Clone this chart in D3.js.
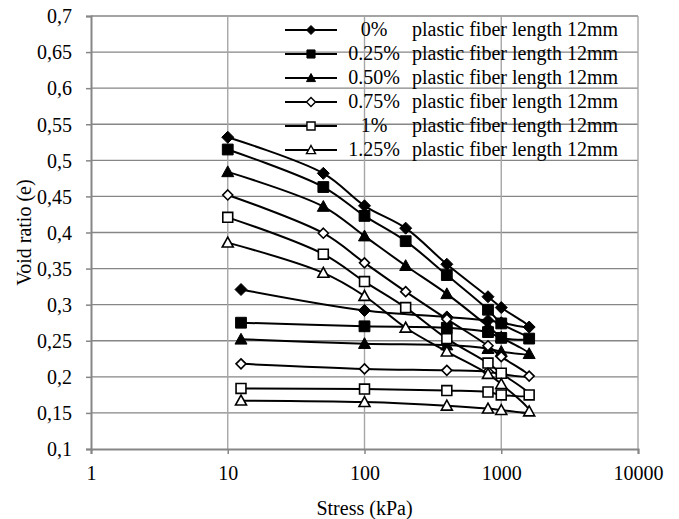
<!DOCTYPE html>
<html lang="en">
<head>
<meta charset="UTF-8">
<title>Void ratio vs stress</title>
<script src="https://d3js.org/d3.v7.min.js"></script>
<style>
    body { margin: 0; background: #fff; }
    svg { display: block; }
    svg text { font-family: "Liberation Serif", "Times New Roman", Times, "DejaVu Serif", serif; font-size: 20px; fill: #000; }
</style>
</head>
<body>
<div id="chart"></div>
<script>
    // Data
    const loadStress = [10, 50, 100, 200, 400, 800, 1000, 1600];
    const unloadStress = [1000, 800, 400, 100, 12.5];

    const seriesNames = ['0%', '0.25%', '0.50%', '0.75%', '1%', '1.25%'];
    const seriesSuffix = 'plastic fiber length 12mm';
    const markerShapes = ['diamond', 'square', 'triangle', 'diamond', 'square', 'triangle'];
    const markerFilled = [true, true, true, false, false, false];

    const loadValues = [
        [0.532, 0.482, 0.437, 0.406, 0.356, 0.311, 0.296, 0.269],
        [0.515, 0.463, 0.423, 0.388, 0.341, 0.293, 0.274, 0.253],
        [0.484, 0.436, 0.395, 0.354, 0.315, 0.270, 0.255, 0.232],
        [0.452, 0.399, 0.358, 0.318, 0.280, 0.243, 0.228, 0.201],
        [0.421, 0.370, 0.332, 0.296, 0.253, 0.219, 0.205, 0.175],
        [0.386, 0.344, 0.312, 0.268, 0.235, 0.204, 0.190, 0.152]
    ];
    const unloadValues = [
        [0.275, 0.278, 0.283, 0.292, 0.321],
        [0.254, 0.262, 0.268, 0.270, 0.275],
        [0.235, 0.239, 0.244, 0.246, 0.252],
        [0.204, 0.207, 0.209, 0.211, 0.218],
        [0.175, 0.179, 0.181, 0.183, 0.184],
        [0.154, 0.156, 0.160, 0.165, 0.167]
    ];

    const xTicks = [1, 10, 100, 1000, 10000];
    const yTicks = [0.1, 0.15, 0.2, 0.25, 0.3, 0.35, 0.4, 0.45, 0.5, 0.55, 0.6, 0.65, 0.7];

    // Layout
    const width = 679, height = 519;
    const plot = { left: 91, right: 638, top: 16, bottom: 449 };
    const serif = '"Liberation Serif", "Times New Roman", Times, "DejaVu Serif", serif';

    const svg = d3.select('#chart').append('svg')
        .attr('width', width)
        .attr('height', height);

    const x = d3.scaleLog().domain([1, 10000]).range([plot.left, plot.right]);
    const y = d3.scaleLinear().domain([0.1, 0.7]).range([plot.bottom, plot.top]);

    // Gridlines
    svg.append('g').selectAll('line')
        .data(yTicks.slice(1))
        .enter().append('line')
        .attr('x1', plot.left).attr('x2', plot.right)
        .attr('y1', d => y(d)).attr('y2', d => y(d))
        .attr('stroke', '#868686').attr('stroke-width', 1.4);

    svg.append('g').selectAll('line')
        .data(xTicks.slice(1))
        .enter().append('line')
        .attr('x1', d => x(d)).attr('x2', d => x(d))
        .attr('y1', plot.top).attr('y2', plot.bottom)
        .attr('stroke', '#a6a6a6').attr('stroke-width', 1.4);

    // Axes
    const yAxis = d3.axisLeft(y).tickValues(yTicks).tickSize(5)
        .tickFormat(d => d3.format('.2~f')(d).replace('.', ','));
    const yg = svg.append('g')
        .attr('transform', `translate(${plot.left},0)`)
        .call(yAxis)
        .attr('font-family', serif)
        .attr('font-size', 20);
    yg.select('.domain').attr('stroke', '#868686').attr('stroke-width', 2);
    yg.selectAll('.tick line').attr('stroke', '#868686').attr('stroke-width', 1.5);
    yg.selectAll('.tick text')
        .attr('x', -19)
        .attr('dy', '0.34em')
        .style('font-family', serif);

    const xAxis = d3.axisBottom(x).tickValues(xTicks).tickSize(5)
        .tickFormat(d3.format('d'));
    const xg = svg.append('g')
        .attr('transform', `translate(0,${plot.bottom})`)
        .call(xAxis)
        .attr('font-family', serif)
        .attr('font-size', 20);
    xg.select('.domain').attr('stroke', '#868686').attr('stroke-width', 2);
    xg.selectAll('.tick line').attr('stroke', '#868686').attr('stroke-width', 1.5);
    xg.selectAll('.tick text')
        .attr('y', 17)
        .attr('dy', '0.71em')
        .style('font-family', serif);

    // Axis titles
    svg.append('text')
        .attr('x', (plot.left + plot.right) / 2)
        .attr('y', 515)
        .attr('text-anchor', 'middle')
        .style('font-family', serif)
        .text('Stress (kPa)');

    svg.append('text')
        .attr('transform', `translate(31,${(plot.top + plot.bottom) / 2}) rotate(-90)`)
        .attr('text-anchor', 'middle')
        .style('font-family', serif)
        .text('Void ratio (e)');

    // Marker paths
    function markerPath(shape, r) {
        if (shape === 'diamond') {
            return `M0,${-r}L${r},0L0,${r}L${-r},0Z`;
        }
        if (shape === 'square') {
            const h = r * 0.9;
            return `M${-h},${-h}L${h},${-h}L${h},${h}L${-h},${h}Z`;
        }
        return `M0,${-r}L${r},${r * 0.8}L${-r},${r * 0.8}Z`;
    }

    const line = d3.line()
        .x(d => x(d.s))
        .y(d => y(d.e))
        .curve(d3.curveCatmullRom.alpha(0.5));

    seriesNames.forEach((name, i) => {
        const pts = loadStress.map((s, j) => ({ s, e: loadValues[i][j] }))
            .concat(unloadStress.map((s, j) => ({ s, e: unloadValues[i][j] })));

        svg.append('path')
            .datum(pts)
            .attr('d', line)
            .attr('fill', 'none')
            .attr('stroke', '#000')
            .attr('stroke-width', 2);

        const r = markerShapes[i] === 'diamond' && !markerFilled[i] ? 5 : (markerFilled[i] ? 6 : 5.5);
        svg.append('g').selectAll('path')
            .data(pts)
            .enter().append('path')
            .attr('transform', d => `translate(${x(d.s)},${y(d.e)})`)
            .attr('d', markerPath(markerShapes[i], r))
            .attr('fill', markerFilled[i] ? '#000' : '#fff')
            .attr('stroke', '#000')
            .attr('stroke-width', markerFilled[i] ? 1 : 1.6);
    });

    // Legend
    const legend = svg.append('g');
    seriesNames.forEach((name, i) => {
        const cy = 30 + i * 24;
        legend.append('line')
            .attr('x1', 285).attr('x2', 337)
            .attr('y1', cy).attr('y2', cy)
            .attr('stroke', '#000').attr('stroke-width', 2);
        legend.append('path')
            .attr('transform', `translate(311,${cy})`)
            .attr('d', markerPath(markerShapes[i], 4.5))
            .attr('fill', markerFilled[i] ? '#000' : '#fff')
            .attr('stroke', '#000')
            .attr('stroke-width', markerFilled[i] ? 1 : 1.4);
        legend.append('text')
            .attr('x', 374).attr('y', cy + 6)
            .attr('text-anchor', 'middle')
            .style('font-family', serif)
            .text(name);
        legend.append('text')
            .attr('x', 412).attr('y', cy + 6)
            .style('font-family', serif)
            .text(seriesSuffix);
    });
</script>
</body>
</html>
